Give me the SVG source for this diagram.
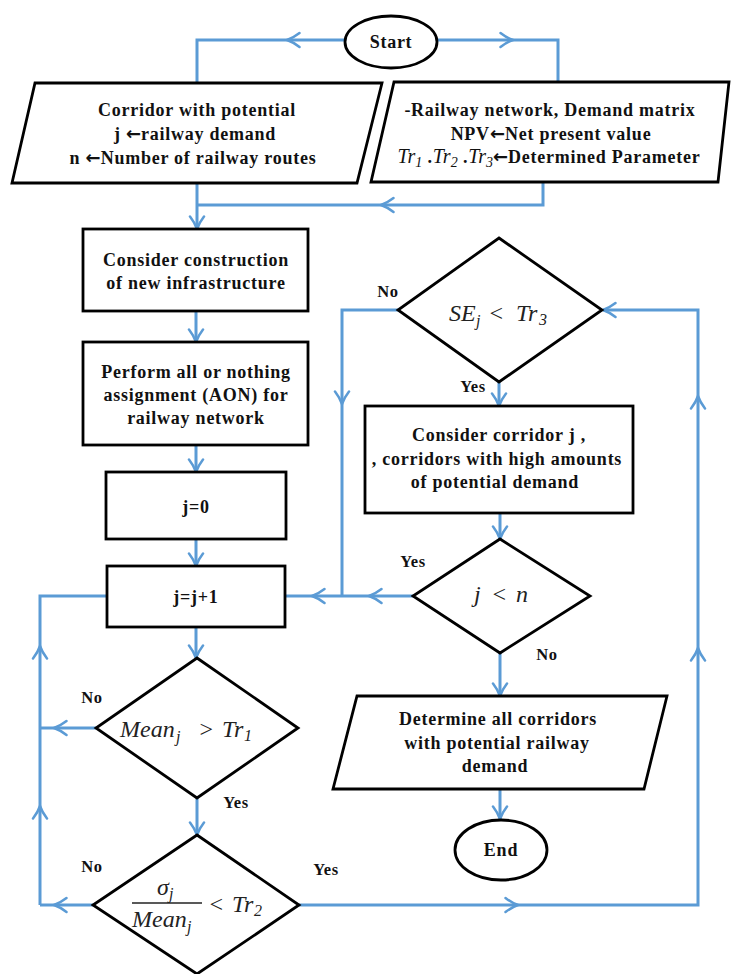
<svg xmlns="http://www.w3.org/2000/svg" width="731" height="974" viewBox="0 0 731 974">
<defs>
<marker id="ah" markerUnits="userSpaceOnUse" markerWidth="18" markerHeight="18" refX="14" refY="9" orient="auto">
<path d="M1.5,2 Q8,7 14,9 Q8,11 1.5,16" fill="none" stroke="#5B9BD5" stroke-width="2.5" stroke-linecap="round"/>
</marker>
<style>
.s{fill:#fff;stroke:#000;stroke-width:2.8}
.c{fill:none;stroke:#5B9BD5;stroke-width:3}
.a{fill:none;stroke:#5B9BD5;stroke-width:3;marker-end:url(#ah)}
.t{font-family:"Liberation Serif","Times New Roman",serif;font-weight:bold;font-size:18px;letter-spacing:0.75px;text-anchor:middle;fill:#111}
.ar{font-family:"DejaVu Sans",sans-serif;font-weight:bold;letter-spacing:0px}
.l{font-family:"Liberation Serif","Times New Roman",serif;font-weight:bold;font-size:16.5px;letter-spacing:0.6px;text-anchor:middle;fill:#111}
.m{font-family:"Liberation Serif","Times New Roman",serif;font-style:italic;font-size:24px;fill:#222}
.ms{font-family:"Liberation Serif","Times New Roman",serif;font-style:italic;font-size:16px;fill:#222}
.mt{font-family:"Liberation Serif","Times New Roman",serif;font-style:italic;font-weight:normal;fill:#111;letter-spacing:0px}
</style>
</defs>

<g id="connectors">
<path class="a" d="M345,40 L287,40"/>
<path class="c" d="M287,40 L197,40 L197,83"/>
<path class="a" d="M437,40 L513,40"/>
<path class="c" d="M513,40 L558,40 L558,81"/>
<path class="a" d="M197,183 L197,229"/>
<path class="a" d="M543,182 L543,205 L381,205"/>
<path class="c" d="M381,205 L197,205"/>
<path class="a" d="M196,311 L196,342"/>
<path class="a" d="M196,445 L196,472"/>
<path class="a" d="M196,539 L196,566"/>
<path class="a" d="M196,627 L196,658"/>
<path class="a" d="M197,798 L197,835"/>
<path class="a" d="M96,728 L54,728"/>
<path class="c" d="M54,728 L40,728"/>
<path class="a" d="M93,905 L54,905"/>
<path class="c" d="M54,905 L40,905"/>
<path class="a" d="M40,905 L40,806"/>
<path class="a" d="M40,806 L40,646"/>
<path class="c" d="M40,646 L40,596 L107,596"/>
<path class="a" d="M299,905 L518,905"/>
<path class="a" d="M518,905 L698,905 L698,648"/>
<path class="a" d="M698,648 L698,396"/>
<path class="a" d="M698,396 L698,310 L603,310"/>
<path class="a" d="M398,310 L342,310 L342,404"/>
<path class="c" d="M342,404 L342,596"/>
<path class="a" d="M413,596 L369,596"/>
<path class="a" d="M369,596 L312,596"/>
<path class="c" d="M312,596 L286,596"/>
<path class="a" d="M499,382 L499,406"/>
<path class="a" d="M500,513 L500,539"/>
<path class="a" d="M500,653 L500,696"/>
<path class="a" d="M500,789 L500,819"/>
</g>

<g id="start">
<ellipse class="s" cx="391" cy="42" rx="46" ry="26"/>
<text class="t" x="391" y="48">Start</text>
</g>

<g id="input-corridor">
<polygon class="s" points="35,83 382,83 357,183 12,183"/>
<text class="t" x="197" y="116">Corridor with potential</text>
<text class="t" x="195" y="140">j <tspan class="ar">←</tspan>railway demand</text>
<text class="t" x="193" y="164">n <tspan class="ar">←</tspan>Number of railway routes</text>
</g>

<g id="input-network">
<polygon class="s" points="394,82 729,82 718,182 371,182"/>
<text class="t" x="550" y="116">-Railway network, Demand matrix</text>
<text class="t" x="551" y="140">NPV<tspan class="ar">←</tspan>Net present value</text>
<text class="t" x="549" y="163"><tspan class="mt" font-size="20">Tr</tspan><tspan class="mt" font-size="14" dy="4">1</tspan><tspan dy="-4"> .</tspan><tspan class="mt" font-size="20">Tr</tspan><tspan class="mt" font-size="14" dy="4">2</tspan><tspan dy="-4"> .</tspan><tspan class="mt" font-size="20">Tr</tspan><tspan class="mt" font-size="14" dy="4">3</tspan><tspan class="ar" dy="-4">←</tspan><tspan>Determined Parameter</tspan></text>
</g>

<g id="construction">
<rect class="s" x="83" y="229" width="225" height="82"/>
<text class="t" x="196" y="266">Consider construction</text>
<text class="t" x="196" y="289">of new infrastructure</text>
</g>

<g id="aon">
<rect class="s" x="83" y="342" width="225" height="103"/>
<text class="t" x="196" y="378">Perform all or nothing</text>
<text class="t" x="196" y="401">assignment (AON) for</text>
<text class="t" x="196" y="424">railway network</text>
</g>

<g id="j0">
<rect class="s" x="106" y="472" width="180" height="67"/>
<text class="t" x="196" y="513">j=0</text>
</g>

<g id="jinc">
<rect class="s" x="107" y="566" width="178" height="61"/>
<text class="t" x="196" y="603">j=j+1</text>
</g>

<g id="mean-check">
<polygon class="s" points="197,658 298,728 197,798 96,728"/>
<text class="m" x="120" y="737">Mean</text>
<text class="ms" x="176" y="742">j</text>
<text class="m" x="198" y="737">&gt;</text>
<text class="m" x="222" y="737">Tr</text>
<text class="ms" x="244" y="741">1</text>
<text class="l" x="92" y="703">No</text>
<text class="l" x="236" y="808">Yes</text>
</g>

<g id="cv-check">
<polygon class="s" points="197,835 299,905 197,974 93,905"/>
<text class="m" x="157" y="895">σ</text>
<text class="ms" x="169" y="899">j</text>
<line x1="132" y1="903" x2="202" y2="903" stroke="#222" stroke-width="1.3"/>
<text class="m" x="132" y="927">Mean</text>
<text class="ms" x="187" y="932">j</text>
<text class="m" x="208" y="912">&lt;</text>
<text class="m" x="232" y="912">Tr</text>
<text class="ms" x="254" y="916">2</text>
<text class="l" x="92" y="872">No</text>
<text class="l" x="326" y="875">Yes</text>
</g>

<g id="se-check">
<polygon class="s" points="499,238 602,310 499,382 398,310"/>
<text class="m" x="449" y="321">SE</text>
<text class="ms" x="476" y="326">j</text>
<text class="m" x="488" y="321">&lt;</text>
<text class="m" x="516" y="321">Tr</text>
<text class="ms" x="539" y="325">3</text>
<text class="l" x="388" y="297">No</text>
<text class="l" x="473" y="392">Yes</text>
</g>

<g id="consider-corridor">
<rect class="s" x="365" y="406" width="268" height="107"/>
<text class="t" x="499" y="441">Consider corridor j ,</text>
<text class="t" x="497" y="465">, corridors with high amounts</text>
<text class="t" x="495" y="488">of potential demand</text>
</g>

<g id="jn-check">
<polygon class="s" points="500,539 590,596 500,653 413,596"/>
<text class="m" x="474" y="602">j</text>
<text class="m" x="491" y="602">&lt;</text>
<text class="m" x="516" y="602">n</text>
<text class="l" x="413" y="567">Yes</text>
<text class="l" x="547" y="660">No</text>
</g>

<g id="determine">
<polygon class="s" points="357,696 667,696 644,789 333,789"/>
<text class="t" x="498" y="725">Determine all corridors</text>
<text class="t" x="497" y="749">with potential railway</text>
<text class="t" x="495" y="772">demand</text>
</g>

<g id="end">
<ellipse class="s" cx="501" cy="850" rx="46" ry="30"/>
<text class="t" x="501" y="856">End</text>
</g>
</svg>
